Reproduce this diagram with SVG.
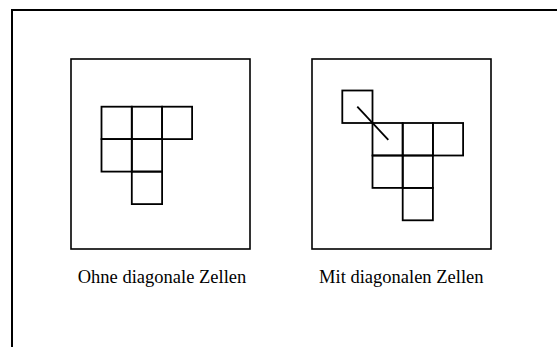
<svg xmlns="http://www.w3.org/2000/svg" width="557" height="347" viewBox="0 0 557 347">
  <style>
    .frame { fill: none; stroke: #000; stroke-width: 2; }
    .box { fill: #fff; stroke: #000; stroke-width: 1.6; }
    .cell { fill: none; stroke: #000; stroke-width: 1.8; }
    .diag { stroke: #000; stroke-width: 1.8; }
    .label { font-family: "Liberation Serif", "Times New Roman", serif; font-size: 18.5px; fill: #000; text-anchor: middle; }
  </style>
  <rect width="557" height="347" fill="#fff"/>
  <!-- page frame, continues past the right and bottom edges -->
  <rect class="frame" x="12" y="10" width="560" height="360"/>

  <!-- left panel: cells without diagonal neighbours -->
  <g id="panel-ohne">
    <rect class="box" x="71" y="59" width="179" height="190"/>
    <g id="cells-ohne">
      <rect class="cell" x="101.5" y="106.7" width="30.3" height="32.4"/>
      <rect class="cell" x="131.8" y="106.7" width="30.3" height="32.4"/>
      <rect class="cell" x="162.1" y="106.7" width="30" height="32.4"/>
      <rect class="cell" x="101.5" y="139.1" width="30.3" height="32.5"/>
      <rect class="cell" x="131.8" y="139.1" width="30.3" height="32.5"/>
      <rect class="cell" x="131.8" y="171.6" width="30.3" height="32.5"/>
    </g>
    <text class="label" x="162" y="283.3">Ohne diagonale Zellen</text>
  </g>

  <!-- right panel: cells with diagonal neighbour -->
  <g id="panel-mit">
    <rect class="box" x="312" y="59" width="179" height="190"/>
    <g id="cells-mit">
      <rect class="cell" x="342.3" y="90.5" width="30.2" height="32.5"/>
      <rect class="cell" x="372.5" y="123" width="30.2" height="32.5"/>
      <rect class="cell" x="402.7" y="123" width="30.2" height="32.5"/>
      <rect class="cell" x="432.9" y="123" width="30.2" height="32.5"/>
      <rect class="cell" x="372.5" y="155.5" width="30.2" height="32.4"/>
      <rect class="cell" x="402.7" y="155.5" width="30.2" height="32.4"/>
      <rect class="cell" x="402.7" y="187.9" width="30.2" height="32.4"/>
    </g>
    <g id="connectors">
      <line class="diag" x1="357.3" y1="106.7" x2="388.3" y2="139.9"/>
    </g>
    <text class="label" x="401.3" y="283.3">Mit diagonalen Zellen</text>
  </g>
</svg>
